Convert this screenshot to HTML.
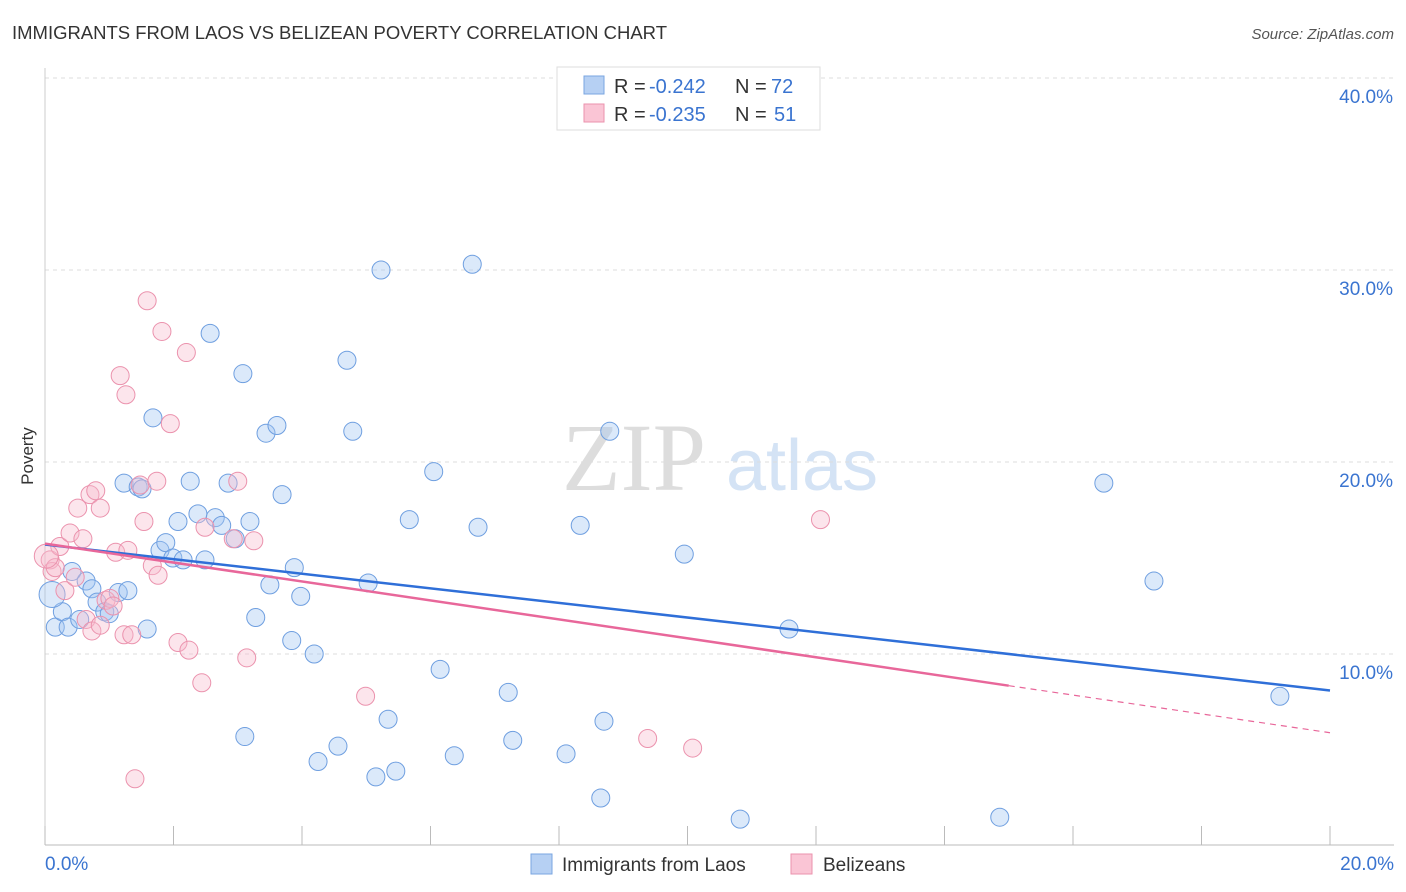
<!DOCTYPE html>
<html><head><meta charset="utf-8"><style>
body{margin:0;background:#fff;font-family:"Liberation Sans",sans-serif;}
svg{display:block}
</style></head><body>
<svg id="c" width="1406" height="892" xmlns="http://www.w3.org/2000/svg">
<text x="12" y="39" font-size="18.5" fill="#333" textLength="655">IMMIGRANTS FROM LAOS VS BELIZEAN POVERTY CORRELATION CHART</text>
<text x="1394" y="39" font-size="15" fill="#555" font-style="italic" text-anchor="end">Source: ZipAtlas.com</text>
<text x="33" y="456" font-size="17" fill="#333" text-anchor="middle" transform="rotate(-90 33 456)">Poverty</text>
<g><text x="634" y="490" font-size="96" fill="#ddd" font-family="Liberation Serif,serif" text-anchor="middle">ZIP</text><text x="802" y="490" font-size="72" fill="#d4e3f5" text-anchor="middle">atlas</text></g>
<g id="grid"></g><g id="pts"></g><g id="lines"></g>
<g>
<rect x="557" y="67" width="263" height="63" fill="#fff" stroke="#ddd"/>
<rect x="584" y="76" width="20" height="18" fill="#b6d0f3" stroke="#7aa6e0"/>
<rect x="584" y="104" width="20" height="18" fill="#fac5d5" stroke="#eb92ad"/>
<text x="614" y="93" font-size="20" fill="#333">R =</text>
<text x="649" y="93" font-size="20" fill="#3a74d0">-0.242</text>
<text x="735" y="93" font-size="20" fill="#333">N =</text>
<text x="771" y="93" font-size="20" fill="#3a74d0">72</text>
<text x="614" y="121" font-size="20" fill="#333">R =</text>
<text x="649" y="121" font-size="20" fill="#3a74d0">-0.235</text>
<text x="735" y="121" font-size="20" fill="#333">N =</text>
<text x="774" y="121" font-size="20" fill="#3a74d0">51</text>
</g>
<g>
<rect x="531" y="854" width="21" height="20" fill="#b6d0f3" stroke="#7aa6e0"/>
<text x="562" y="871" font-size="19" fill="#333">Immigrants from Laos</text>
<rect x="791" y="854" width="21" height="20" fill="#fac5d5" stroke="#eb92ad"/>
<text x="823" y="871" font-size="19" fill="#333">Belizeans</text>
</g>
</svg>
<script>
const yTicks=[10,20,30,40];
const xTicks=[0,2,4,6,8,10,12,14,16,18,20];
const blueX=[0.16,0.27,0.36,0.42,0.54,0.64,0.73,0.81,0.93,1.0,1.14,1.29,1.23,1.45,1.51,1.59,1.68,1.79,1.88,1.99,2.07,2.15,2.26,2.38,2.49,2.57,2.65,2.75,2.85,2.96,3.08,3.11,3.19,3.28,3.44,3.5,3.61,3.69,3.84,3.88,3.98,4.19,4.25,4.56,4.7,4.79,5.03,5.15,5.23,5.34,5.46,5.67,6.05,6.15,6.37,6.65,6.74,7.21,7.28,8.11,8.33,8.65,8.7,8.79,9.95,10.82,11.58,14.86,16.48,17.26,19.22,0.11];
const blueY=[11.4,12.2,11.4,14.3,11.8,13.8,13.4,12.7,12.2,12.1,13.2,13.3,18.9,18.7,18.6,11.3,22.3,15.4,15.8,15.0,16.9,14.9,19.0,17.3,14.9,26.7,17.1,16.7,18.9,16.0,24.6,5.7,16.9,11.9,21.5,13.6,21.9,18.3,10.7,14.5,13.0,10.0,4.4,5.2,25.3,21.6,13.7,3.6,30.0,6.6,3.9,17.0,19.5,9.2,4.7,30.3,16.6,8.0,5.5,4.8,16.7,2.5,6.5,21.6,15.2,1.4,11.3,1.5,18.9,13.8,7.8,13.1];
const pinkX=[0.08,0.11,0.16,0.23,0.31,0.39,0.47,0.51,0.59,0.64,0.7,0.73,0.79,0.86,0.86,0.95,1.01,1.06,1.1,1.17,1.23,1.26,1.29,1.35,1.4,1.48,1.54,1.59,1.67,1.74,1.76,1.82,1.95,2.07,2.2,2.24,2.44,2.49,2.93,3.0,3.14,3.25,4.99,9.38,10.08,12.07,0.02];
const pinkY=[14.9,14.3,14.5,15.6,13.3,16.3,14.0,17.6,16.0,11.8,18.3,11.2,18.5,17.6,11.5,12.8,12.9,12.5,15.3,24.5,11.0,23.5,15.4,11.0,3.5,18.8,16.9,28.4,14.6,19.0,14.1,26.8,22.0,10.6,25.7,10.2,8.5,16.6,16.0,19.0,9.8,15.9,7.8,5.6,5.1,17.0,15.1];
const X=v=>45+v/20*1285, Y=v=>846-v*19.2;
const ns="http://www.w3.org/2000/svg";
function mk(t,a,p){const e=document.createElementNS(ns,t);for(const k in a)e.setAttribute(k,a[k]);p.appendChild(e);return e;}
const g=document.getElementById('grid');
yTicks.forEach(t=>{
 const l=mk('line',{x1:45,x2:1394,y1:Y(t),y2:Y(t),stroke:'#ddd','stroke-dasharray':'4 4'},g);
 
 
 const tx=mk('text',{x:1393,y:Y(t)+25,'font-size':19,fill:'#3a74d0','text-anchor':'end'},g);tx.textContent=t.toFixed(1)+'%';
 
 
});
const ax=mk('line',{x1:45,x2:1394,y1:845,y2:845,stroke:'#bbb'},g);


const ay=mk('line',{x1:45,x2:45,y1:68,y2:845,stroke:'#ccc'},g);


xTicks.forEach(t=>{
 const l=mk('line',{x1:X(t),x2:X(t),y1:826,y2:845,stroke:'#bbb'},g);
 
 
});
[[0,'start',45],[20,'end',1394]].forEach(([t,a,x])=>{
 const tx=mk('text',{x:x,y:870,'font-size':19,fill:'#3a74d0','text-anchor':a},g);tx.textContent=t.toFixed(1)+'%';
 
 
});
const pg=document.getElementById('pts');
blueX.forEach((v,i)=>{
 const c=mk('circle',{cx:X(v),cy:Y(blueY[i]),r:i==blueX.length-1?13:9,fill:'rgba(160,196,242,0.38)',stroke:'#6f9fe0','stroke-width':1},pg);
 
 
});
pinkX.forEach((v,i)=>{
 const c=mk('circle',{cx:X(v),cy:Y(pinkY[i]),r:i==pinkX.length-1?12:9,fill:'rgba(248,186,204,0.38)',stroke:'#eb92ad','stroke-width':1},pg);
 
 
});
const lg=document.getElementById('lines');
const b=mk('line',{x1:X(0),y1:Y(15.7),x2:X(20),y2:Y(8.1),stroke:'#2f6fd8','stroke-width':2.5},lg);


const p1=mk('line',{x1:X(0),y1:Y(15.75),x2:X(15),y2:Y(8.35),stroke:'#e8679a','stroke-width':2.5},lg);


const p2=mk('line',{x1:X(15),y1:Y(8.35),x2:X(20),y2:Y(5.9),stroke:'#e8679a','stroke-width':1.2,'stroke-dasharray':'6 5'},lg);


</script>
</body></html>
